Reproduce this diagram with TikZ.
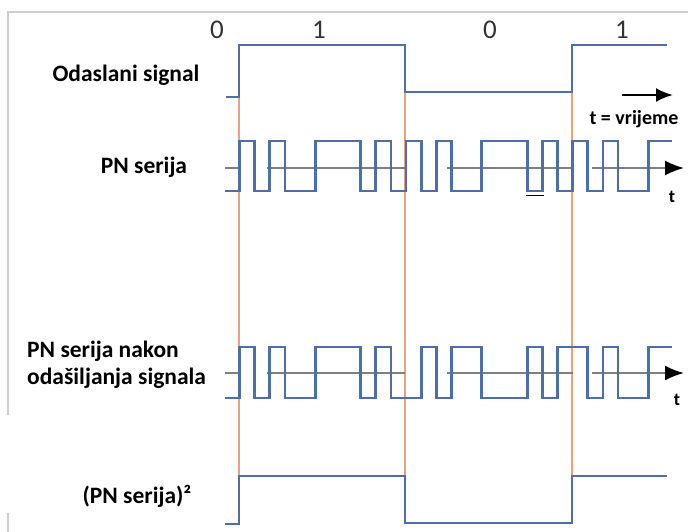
\documentclass[tikz,border=0pt]{standalone}
\usepackage{fontspec}
\setmainfont{Carlito}
\usepackage{tikz}
\usetikzlibrary{arrows.meta}
\usetikzlibrary{positioning}
\definecolor{sig-blue}{HTML}{4E6EA6}
\definecolor{sig-orange}{HTML}{E9A27E}
\definecolor{sig-axis}{HTML}{7F7F7F}
\definecolor{sig-frame}{HTML}{CFCFCF}
\definecolor{sig-digit}{HTML}{333333}

\begin{document}
\begin{tikzpicture}[x=1pt, y=-1pt, >=latex,
    labela/.style={font=\fontsize{23.5}{27}\selectfont\bfseries, text=black, inner sep=0pt},
    bitlab/.style={font=\fontsize{27}{30}\selectfont, text=sig-digit, inner sep=0pt},
    valna/.style={sig-blue, line width=2.8pt, line join=miter},
    os/.style={sig-axis, line width=2pt},
    granica/.style={sig-orange, line width=1.6pt}]

    \useasboundingbox (0,0) rectangle (688,532);

    % Rub izvorne slike (svijetlo sivo)
    \draw[sig-frame, line width=1.2pt] (688,12) -- (8,12) -- (8,415);
    \draw[sig-frame, line width=1.2pt] (8,513) -- (8,532);

    % Granice bitova (narancaste okomice)
    \draw[granica] (239,97) -- (239,523);
    \draw[granica] (405,92) -- (405,523);
    \draw[granica] (572,92) -- (572,523);

    % Oznake bitova
    \node[bitlab] (b0) at (217,30) {0};
    \node[bitlab] (b1) at (319,30) {1};
    \node[bitlab] (b2) at (490,30) {0};
    \node[bitlab] (b3) at (622,30) {1};

    % --- ODASLANI SIGNAL ---
    \node[labela] (lsig) at (126,75) {Odaslani signal};
    \draw[valna] (226,97) -| (239,45) -| (405,92) -| (572,45) -- (667,45);

    % Strelica vremena
    \coordinate (tpoc) at (622,95);
    \coordinate (tkraj) at (673,95);
    \draw[-{Latex[length=17pt,width=14pt]}, line width=2.4pt, black] (tpoc) -- (tkraj);
    \node[font=\fontsize{20}{22}\selectfont\bfseries, inner sep=0pt] (tvr) at (634,119) {t = vrijeme};

    % --- PN SERIJA ---
    \node[labela] (lpn) at (144,167) {PN serija};
    \draw[os] (225,168) -- (238,168);
    \draw[os] (267,168) -- (405,168);
    \draw[os] (447,168) -- (573,168);
    \draw[os, -{Latex[length=19pt,width=15pt,color=black]}] (592,168) -- (684,168);
    \draw[valna] (225,191) -| (239.5,141) -| (254.6,191) -| (269.8,141) -| (284.9,191)
        -| (315.2,141) -| (360.6,191) -| (375.8,141) -| (390.9,191) -| (406,141)
        -| (421.2,191) -| (436.3,141) -| (451.5,191) -| (481.7,141) -| (527.2,191)
        -| (542.3,141) -| (557.4,191) -| (572.6,141) -| (587.7,191) -| (602.9,141)
        -| (618,191) -| (648.3,141) -- (672,141);
    \draw[black, line width=1pt] (526,195.5) -- (544,195.5);
    \node[font=\fontsize{18}{20}\selectfont\bfseries, inner sep=0pt] (t1) at (672,197) {t};

    % --- PN SERIJA NAKON ODASILJANJA ---
    \node[labela, align=left, anchor=west] (lpnn) at (27,364.5) {PN serija nakon\\odašiljanja signala};
    \draw[os] (225,373) -- (238,373);
    \draw[os] (267,373) -- (405,373);
    \draw[os] (447,373) -- (573,373);
    \draw[os, -{Latex[length=19pt,width=15pt,color=black]}] (592,373) -- (684,373);
    \draw[valna] (225,398) -| (239.5,347) -| (254.6,398) -| (269.8,347) -| (284.9,398)
        -| (315.2,347) -| (360.6,398) -| (375.8,347) -| (390.9,398) -| (421.2,347)
        -| (436.3,398) -| (451.5,347) -| (481.7,398) -| (527.2,347) -| (542.3,398)
        -| (557.4,347) -| (587.7,398) -| (602.9,347) -| (618,398) -| (648.3,347)
        -- (672,347);
    \node[font=\fontsize{18}{20}\selectfont\bfseries, inner sep=0pt] (t2) at (677,400) {t};

    % --- (PN SERIJA)^2 ---
    \node[labela] (lkv) at (137,496) {(PN serija)²};
    \draw[valna] (225,524) -| (239,476) -| (405,523) -| (572,476) -- (667,476);

\end{tikzpicture}
\end{document}
